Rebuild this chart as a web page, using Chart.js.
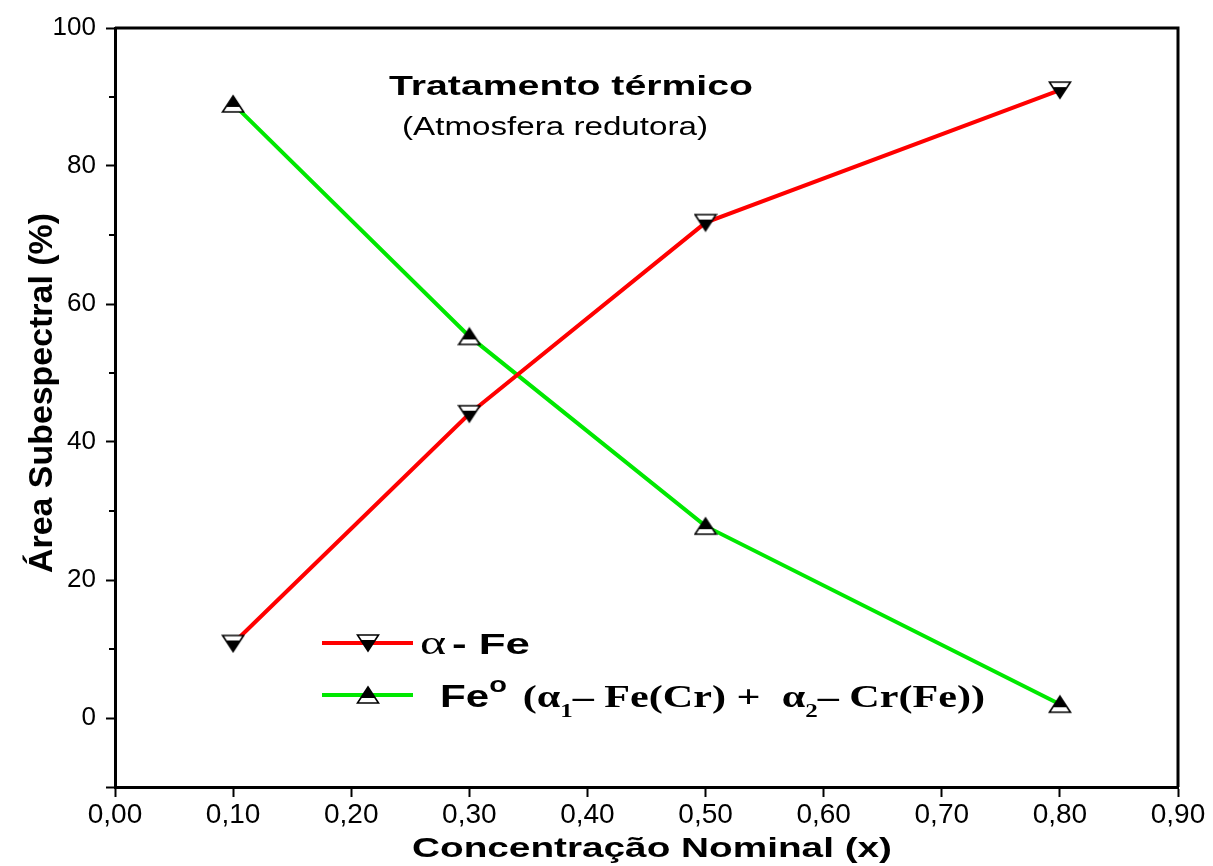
<!DOCTYPE html>
<html>
<head>
<meta charset="utf-8">
<title>Área Subespectral x Concentração Nominal</title>
<script src="https://cdn.jsdelivr.net/npm/chart.js@4.4.0/dist/chart.umd.min.js"></script>
<style>
    html, body { margin: 0; padding: 0; background: #fff; }
</style>
</head>
<body>
<canvas id="areaChart" width="1213" height="866"></canvas>
<script>
// Data
const concentracao = [0.10, 0.30, 0.50, 0.80];
const areaAlphaFe = [10.8, 44.1, 71.8, 91.0];
const areaFeO = [89.0, 55.3, 27.8, 2.0];

// Axis ticks
const xTickValues = [0, 0.1, 0.2, 0.3, 0.4, 0.5, 0.6, 0.7, 0.8, 0.9];
const xTickLabels = ['0,00', '0,10', '0,20', '0,30', '0,40', '0,50', '0,60', '0,70', '0,80', '0,90'];
const yTickValues = [-10, 0, 20, 40, 60, 80, 100];
const yTickLabels = ['', '0', '20', '40', '60', '80', '100'];
const yMinorTicks = [10, 30, 50, 70, 90];

const RED = '#ff0000';
const GREEN = '#00e800';
const SANS = "'Liberation Sans', Arial, Helvetica, sans-serif";
const SERIF = "'Liberation Serif', 'Times New Roman', serif";

// Half-filled triangle markers
function makeTriangle(down) {
    const c = document.createElement('canvas');
    c.width = 24;
    c.height = 20;
    const ctx = c.getContext('2d');
    ctx.beginPath();
    if (down) {
        ctx.moveTo(1.5, 2); ctx.lineTo(22.5, 2); ctx.lineTo(12, 18);
    } else {
        ctx.moveTo(12, 2); ctx.lineTo(22.5, 18); ctx.lineTo(1.5, 18);
    }
    ctx.closePath();
    ctx.fillStyle = '#000';
    ctx.fill();
    ctx.save();
    ctx.clip();
    ctx.fillStyle = '#fff';
    if (down) ctx.fillRect(0, 2, 24, 5);
    else ctx.fillRect(0, 13, 24, 5);
    ctx.restore();
    ctx.lineWidth = 1.6;
    ctx.strokeStyle = '#000';
    ctx.stroke();
    return c;
}
const triDown = makeTriangle(true);
const triUp = makeTriangle(false);

// draw text squeezed/stretched to a given width
function fitText(ctx, text, x, y, font, width) {
    ctx.save();
    ctx.font = font;
    const w = ctx.measureText(text).width;
    ctx.translate(x, y);
    ctx.scale(width / w, 1);
    ctx.textAlign = 'left';
    ctx.textBaseline = 'alphabetic';
    ctx.fillText(text, 0, 0);
    ctx.restore();
}

// rich text made of pieces, fitted to a width
function fitPieces(ctx, pieces, x, y, width) {
    let total = 0;
    pieces.forEach(p => {
        ctx.font = p.font;
        p.w = ctx.measureText(p.text).width;
        total += p.w + (p.gap || 0);
    });
    ctx.save();
    ctx.translate(x, y);
    ctx.scale(width / total, 1);
    let cx = 0;
    pieces.forEach(p => {
        ctx.font = p.font;
        ctx.fillText(p.text, cx, p.dy || 0);
        cx += p.w + (p.gap || 0);
    });
    ctx.restore();
}

const decorPlugin = {
    id: 'decor',
    afterDraw(chart) {
        const ctx = chart.ctx;
        const area = chart.chartArea;
        const yScale = chart.scales.y;

        ctx.save();
        ctx.fillStyle = '#000';
        ctx.strokeStyle = '#000';

        // frame: top and right sides
        ctx.lineWidth = 3;
        ctx.beginPath();
        ctx.moveTo(area.left, area.top);
        ctx.lineTo(area.right, area.top);
        ctx.lineTo(area.right, area.bottom);
        ctx.stroke();

        // minor ticks on y
        ctx.lineWidth = 2;
        yMinorTicks.forEach(v => {
            const y = Math.round(yScale.getPixelForValue(v));
            ctx.beginPath();
            ctx.moveTo(area.left - 6, y);
            ctx.lineTo(area.left, y);
            ctx.stroke();
        });

        // axis titles
        fitText(ctx, 'Concentração Nominal (x)', 412, 857, 'bold 28px ' + SANS, 480);
        ctx.save();
        ctx.translate(52, 573);
        ctx.rotate(-Math.PI / 2);
        fitText(ctx, 'Área Subespectral (%)', 0, 0, 'bold 33px ' + SANS, 360);
        ctx.restore();

        // annotation
        fitText(ctx, 'Tratamento térmico', 389, 95, 'bold 27px ' + SANS, 364);
        fitText(ctx, '(Atmosfera redutora)', 402, 135, '26px ' + SANS, 306);

        // legend
        const rows = [
            { color: RED, marker: triDown, y: 643 },
            { color: GREEN, marker: triUp, y: 695 }
        ];
        rows.forEach(r => {
            ctx.strokeStyle = r.color;
            ctx.lineWidth = 4;
            ctx.beginPath();
            ctx.moveTo(322, r.y);
            ctx.lineTo(413, r.y);
            ctx.stroke();
            ctx.drawImage(r.marker, 368 - r.marker.width / 2, r.y - r.marker.height / 2);
        });

        ctx.fillStyle = '#000';
        fitPieces(ctx, [
            { text: 'α', font: '34px ' + SERIF, gap: 4 },
            { text: '- Fe', font: 'bold 30px ' + SANS }
        ], 420, 654, 110);

        fitPieces(ctx, [
            { text: 'Fe', font: 'bold 32px ' + SANS },
            { text: 'o', font: 'bold 22px ' + SANS, dy: -15, gap: 12 },
            { text: '(α', font: 'bold 32px ' + SERIF },
            { text: '1', font: 'bold 19px ' + SERIF, dy: 10 },
            { text: '– Fe(Cr) +  α', font: 'bold 32px ' + SERIF },
            { text: '2', font: 'bold 19px ' + SERIF, dy: 10 },
            { text: '– Cr(Fe))', font: 'bold 32px ' + SERIF }
        ], 440, 707, 545);

        ctx.restore();
    }
};

const ctx = document.getElementById('areaChart').getContext('2d');
new Chart(ctx, {
    type: 'line',
    data: {
        datasets: [{
            label: 'α - Fe',
            data: concentracao.map((x, i) => ({ x: x, y: areaAlphaFe[i] })),
            borderColor: RED,
            borderWidth: 4,
            pointStyle: triDown,
            pointRadius: 10,
            fill: false,
            tension: 0
        }, {
            label: 'Feº (α1 – Fe(Cr) + α2 – Cr(Fe))',
            data: concentracao.map((x, i) => ({ x: x, y: areaFeO[i] })),
            borderColor: GREEN,
            borderWidth: 4,
            pointStyle: triUp,
            pointRadius: 10,
            fill: false,
            tension: 0
        }]
    },
    options: {
        responsive: false,
        animation: false,
        devicePixelRatio: 1,
        layout: { padding: { top: 28, right: 35, left: 0, bottom: 0 } },
        plugins: {
            legend: { display: false },
            tooltip: { enabled: false }
        },
        scales: {
            x: {
                type: 'linear',
                min: 0,
                max: 0.9,
                afterBuildTicks: scale => { scale.ticks = xTickValues.map(v => ({ value: v })); },
                afterFit: scale => { scale.height = 79; },
                ticks: {
                    callback: (value, index) => xTickLabels[index],
                    color: '#000',
                    font: { family: SANS, size: 28 },
                    padding: 1,
                    maxRotation: 0,
                    autoSkip: false
                },
                grid: { drawOnChartArea: false, tickLength: 10, tickWidth: 2, tickColor: '#000' },
                border: { color: '#000', width: 3 }
            },
            y: {
                type: 'linear',
                min: -10,
                max: 100,
                afterBuildTicks: scale => { scale.ticks = yTickValues.map(v => ({ value: v })); },
                afterFit: scale => { scale.width = 115; },
                ticks: {
                    callback: (value, index) => yTickLabels[index],
                    color: '#000',
                    font: { family: SANS, size: 26 },
                    padding: 10,
                    autoSkip: false
                },
                grid: { drawOnChartArea: false, tickLength: 9, tickWidth: 2, tickColor: '#000' },
                border: { color: '#000', width: 3 }
            }
        }
    },
    plugins: [decorPlugin]
});
</script>
</body>
</html>
